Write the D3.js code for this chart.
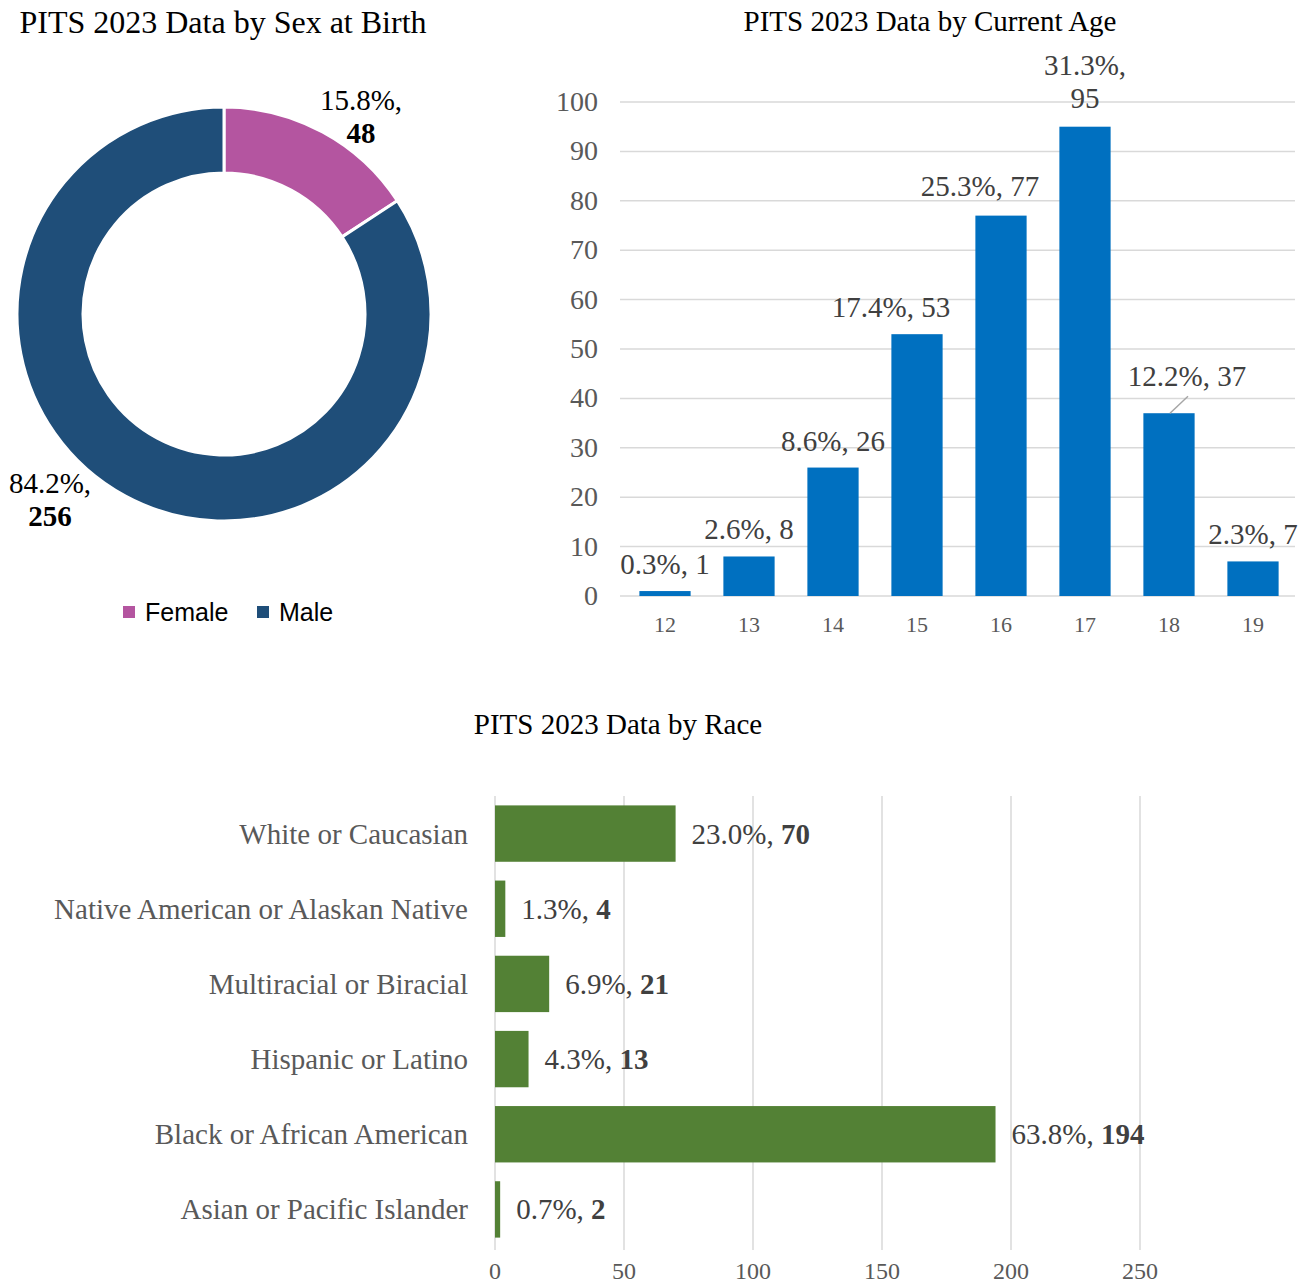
<!DOCTYPE html>
<html>
<head>
<meta charset="utf-8">
<script src="https://cdn.jsdelivr.net/npm/d3@7"></script>
<style>
  body { margin: 0; background: #fff; }
  text { font-family: "Liberation Serif", "Times New Roman", serif; }
</style>
</head>
<body>
<script>
const WIDTH = 1311;
const HEIGHT = 1286;

// sex at birth
const sexLabels = ["Female", "Male"];
const sexCounts = [48, 256];
const sexPct = ["15.8%", "84.2%"];
const sexColors = ["#B455A0", "#1F4E79"];

// current age
const ages = ["12", "13", "14", "15", "16", "17", "18", "19"];
const ageCounts = [1, 8, 26, 53, 77, 95, 37, 7];
const agePct = ["0.3%", "2.6%", "8.6%", "17.4%", "25.3%", "31.3%", "12.2%", "2.3%"];
const ageTicks = [0, 10, 20, 30, 40, 50, 60, 70, 80, 90, 100];

// race
const races = ["White or Caucasian", "Native American or Alaskan Native", "Multiracial or Biracial",
  "Hispanic or Latino", "Black or African American", "Asian or Pacific Islander"];
const raceCounts = [70, 4, 21, 13, 194, 2];
const racePct = ["23.0%", "1.3%", "6.9%", "4.3%", "63.8%", "0.7%"];
const raceTicks = [0, 50, 100, 150, 200, 250];

var svg = d3.select("body").append("svg")
  .attr("width", WIDTH)
  .attr("height", HEIGHT);

svg.append("rect").attr("width", WIDTH).attr("height", HEIGHT).attr("fill", "#fff");

// ---------- donut ----------
svg.append("text").attr("x", 223).attr("y", 33).attr("text-anchor", "middle")
  .attr("font-size", 32).attr("fill", "#000").text("PITS 2023 Data by Sex at Birth");

var pie = d3.pie().sort(null)(sexCounts);
var arc = d3.arc().innerRadius(141).outerRadius(207);
var donut = svg.append("g").attr("transform", "translate(224,314)");
donut.selectAll("path").data(pie).join("path")
  .attr("d", arc)
  .attr("fill", (d, i) => sexColors[i])
  .attr("stroke", "#fff").attr("stroke-width", 3);

// label spots picked to match the original placement
var sexLabelPos = [[361, 100], [50, 483]];
sexCounts.forEach(function (c, i) {
  var t = svg.append("text").attr("text-anchor", "middle").attr("font-size", 29).attr("fill", "#000");
  t.append("tspan").attr("x", sexLabelPos[i][0]).attr("y", sexLabelPos[i][1] + 10).text(sexPct[i] + ",");
  t.append("tspan").attr("x", sexLabelPos[i][0]).attr("y", sexLabelPos[i][1] + 43)
    .attr("font-weight", "bold").text(c);
});

// legend
var legX = [123, 257];
sexLabels.forEach(function (s, i) {
  svg.append("rect").attr("x", legX[i]).attr("y", 606).attr("width", 12).attr("height", 12).attr("fill", sexColors[i]);
  svg.append("text").attr("x", legX[i] + 22).attr("y", 621)
    .style("font-family", "'Liberation Sans', Arial, sans-serif")
    .attr("font-size", 25).attr("fill", "#000").text(s);
});

// ---------- age bars ----------
svg.append("text").attr("x", 930).attr("y", 31).attr("text-anchor", "middle")
  .attr("font-size", 29).attr("fill", "#000").text("PITS 2023 Data by Current Age");

var ax = d3.scaleBand().domain(ages).range([623, 1295]).paddingInner(0.39).paddingOuter(0.195);
var ay = d3.scaleLinear().domain([0, 100]).range([596, 102]);

svg.append("g").selectAll("line").data(ageTicks).join("line")
  .attr("x1", 620).attr("x2", 1295)
  .attr("y1", d => ay(d)).attr("y2", d => ay(d))
  .attr("stroke", "#d9d9d9").attr("stroke-width", 1.5);

svg.append("g").selectAll("text").data(ageTicks).join("text")
  .attr("x", 598).attr("y", d => ay(d) + 9).attr("text-anchor", "end")
  .attr("font-size", 28).attr("fill", "#595959").text(d => d);

svg.append("g").selectAll("rect").data(ageCounts).join("rect")
  .attr("x", (d, i) => ax(ages[i])).attr("width", ax.bandwidth())
  .attr("y", d => ay(d)).attr("height", d => ay(0) - ay(d))
  .attr("fill", "#0070C0");

svg.append("g").selectAll("text").data(ages).join("text")
  .attr("x", d => ax(d) + ax.bandwidth() / 2).attr("y", 632).attr("text-anchor", "middle")
  .attr("font-size", 22).attr("fill", "#595959").text(d => d);

// label nudges (dx, extra lift) as placed in the original
var ageNudge = [[0, 0], [0, 0], [0, 0], [-26, 0], [-21, 3], [0, 2], [18, 10], [0, 0]];
ageCounts.forEach(function (c, i) {
  var cx = ax(ages[i]) + ax.bandwidth() / 2 + ageNudge[i][0];
  var cy = ay(c) - 27 - ageNudge[i][1];
  var t = svg.append("text").attr("text-anchor", "middle").attr("font-size", 29).attr("fill", "#404040");
  if (i === 5) {
    t.append("tspan").attr("x", cx).attr("y", cy - 33 + 10).text(agePct[i] + ",");
    t.append("tspan").attr("x", cx).attr("y", cy + 10).text(c);
  } else {
    t.attr("x", cx).attr("y", cy + 10).text(agePct[i] + ", " + c);
  }
});
// leader line for age 18
var lx = ax("18") + ax.bandwidth() / 2;
svg.append("line").attr("x1", lx + 19).attr("y1", ay(37) - 17).attr("x2", lx + 1).attr("y2", ay(37))
  .attr("stroke", "#a6a6a6").attr("stroke-width", 1.5);

// ---------- race bars ----------
svg.append("text").attr("x", 618).attr("y", 734).attr("text-anchor", "middle")
  .attr("font-size", 29).attr("fill", "#000").text("PITS 2023 Data by Race");

var rx = d3.scaleLinear().domain([0, 250]).range([495, 1140]);
var ry = d3.scaleBand().domain(races).range([796, 1247]).paddingInner(0.25).paddingOuter(0.125);

svg.append("g").selectAll("line").data(raceTicks).join("line")
  .attr("x1", d => rx(d)).attr("x2", d => rx(d))
  .attr("y1", 796).attr("y2", 1250)
  .attr("stroke", "#d9d9d9").attr("stroke-width", 1.5);

svg.append("g").selectAll("text").data(raceTicks).join("text")
  .attr("x", d => rx(d)).attr("y", 1279).attr("text-anchor", "middle")
  .attr("font-size", 24).attr("fill", "#595959").text(d => d);

svg.append("g").selectAll("rect").data(raceCounts).join("rect")
  .attr("x", rx(0)).attr("width", d => rx(d) - rx(0))
  .attr("y", (d, i) => ry(races[i])).attr("height", ry.bandwidth())
  .attr("fill", "#538135");

svg.append("g").selectAll("text").data(races).join("text")
  .attr("x", 468).attr("y", d => ry(d) + ry.bandwidth() / 2 + 10).attr("text-anchor", "end")
  .attr("font-size", 29).attr("fill", "#595959").text(d => d);

raceCounts.forEach(function (c, i) {
  var t = svg.append("text").attr("x", rx(c) + 16).attr("y", ry(races[i]) + ry.bandwidth() / 2 + 10)
    .attr("font-size", 29).attr("fill", "#404040");
  t.append("tspan").text(racePct[i] + ", ");
  t.append("tspan").attr("font-weight", "bold").text(c);
});
</script>
</body>
</html>
